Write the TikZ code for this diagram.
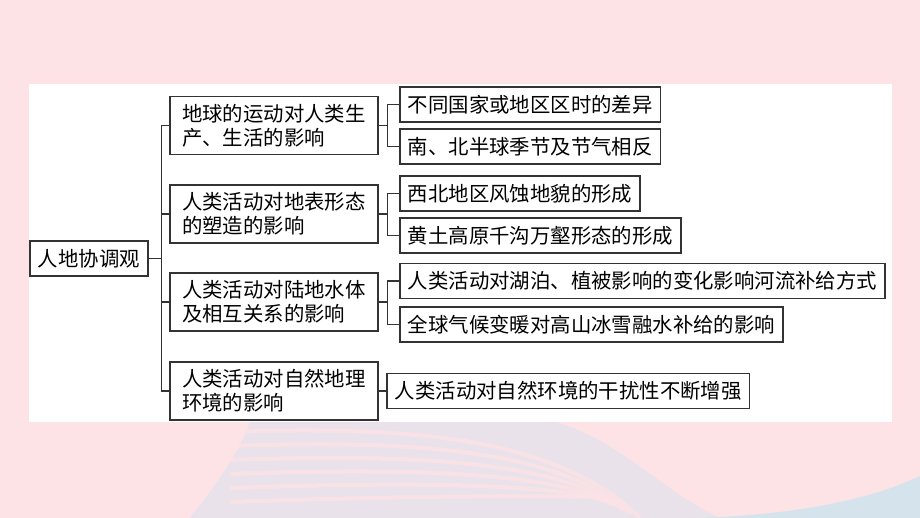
\documentclass[tikz,border=0pt]{standalone}
\usepackage{fontspec}
\newfontfamily\cjk{Noto Sans CJK SC}
\usepackage{tikz}
\definecolor{bgpink}{HTML}{FDE3E6}
\definecolor{wavegray}{HTML}{E9E2EA}
\definecolor{waveblue}{HTML}{D5E4EC}
\definecolor{linegray}{HTML}{333333}
\newcommand{\boxfont}{\cjk\fontsize{20.4pt}{24pt}\selectfont}

\begin{document}
\begin{tikzpicture}[x=1pt, y=-1pt, line width=1.6pt,
    box/.style={rectangle, draw=linegray, fill=white, anchor=west, align=left,
      inner xsep=12pt, inner ysep=0pt, minimum width=208pt, minimum height=58pt, font=\boxfont},
    leaf/.style={rectangle, draw=linegray, fill=white, anchor=west,
      inner xsep=8pt, inner ysep=0pt, minimum height=35pt, font=\boxfont},
    link/.style={draw=linegray}]
    % background and panel
    \useasboundingbox (0,0) rectangle (920,518);
    \fill[bgpink] (0,0) rectangle (920,518);
    \fill[wavegray] (250,422) -- (555,422) .. controls (620,440) and (660,490) .. (720,518)
      -- (190,518) .. controls (220,480) and (240,450) .. cycle;
    \foreach \s in {0,14,28,42,56,70}
      \draw[bgpink, opacity=0.8, line width=4pt]
        (230,{432+\s}) .. controls (420,{425+\s}) and (560,{440+0.8*\s}) .. ({640-0.6*\s},{518-0.3*\s});
    \fill[waveblue] (690,518) .. controls (790,516) and (870,500) .. (920,476) -- (920,518) -- cycle;
    \fill[white] (29,84) rectangle (892,422);

    \node[leaf, minimum height=35pt] (root) at (29,258.5) {人地协调观};

    \node[box] (earth) at (169,125.5) {地球的运动对人类生\\产、生活的影响};
    \node[box] (land) at (169,214) {人类活动对地表形态\\的塑造的影响};
    \node[box] (water) at (169,302) {人类活动对陆地水体\\及相互关系的影响};
    \node[box] (nature) at (169,391) {人类活动对自然地理\\环境的影响};

    \node[leaf] (zone) at (399,104.5) {不同国家或地区区时的差异};
    \node[leaf] (season) at (399,146.5) {南、北半球季节及节气相反};
    \node[leaf] (wind) at (399,193.5) {西北地区风蚀地貌的形成};
    \node[leaf] (loess) at (399,235.5) {黄土高原千沟万壑形态的形成};
    \node[leaf] (river) at (399,281) {人类活动对湖泊、植被影响的变化影响河流补给方式};
    \node[leaf] (glacier) at (399,324.5) {全球气候变暖对高山冰雪融水补给的影响};
    \node[leaf] (human) at (386,391) {人类活动对自然环境的干扰性不断增强};

    \draw[link] (root.east) -- ++(13,0) coordinate (trunk);
    \foreach \n in {earth,land,water,nature}
      \draw[link] (trunk) |- (\n.west);

    \draw[link] (earth.east) -- ++(9,0) |- (zone.west);
    \draw[link] (earth.east) -- ++(9,0) |- (season.west);
    \draw[link] (land.east) -- ++(9,0) |- (wind.west);
    \draw[link] (land.east) -- ++(9,0) |- (loess.west);
    \draw[link] (water.east) -- ++(9,0) |- (river.west);
    \draw[link] (water.east) -- ++(9,0) |- (glacier.west);
    \draw[link] (nature.east) -- (human.west);
\end{tikzpicture}
\end{document}
